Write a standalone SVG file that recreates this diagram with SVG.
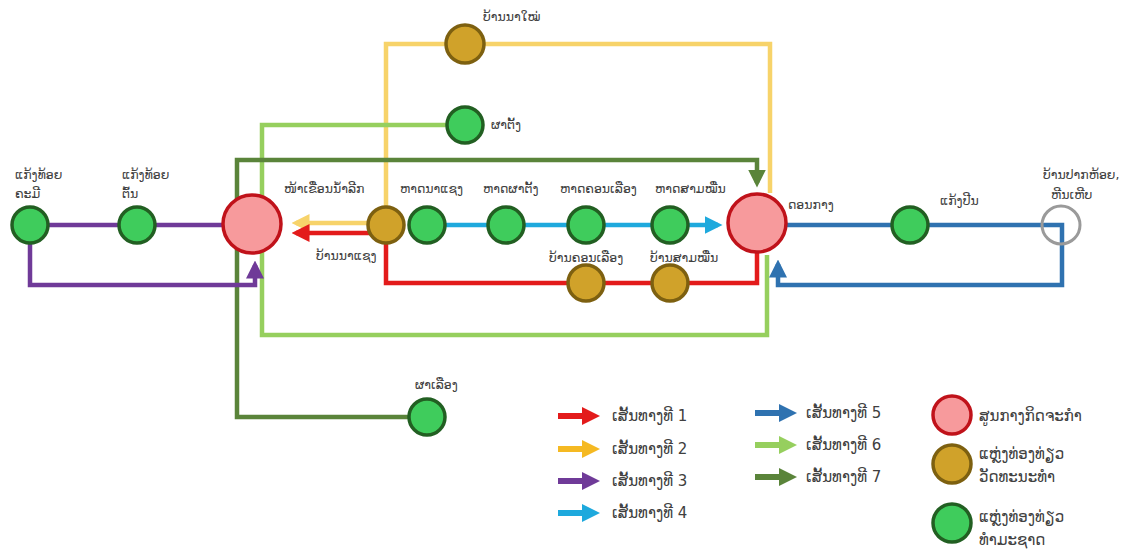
<svg xmlns="http://www.w3.org/2000/svg" width="1141" height="551" viewBox="0 0 1141 551">
<style>
text{font-family:"DejaVu Sans","Noto Sans",sans-serif;font-size:12.5px;fill:#404040}
.lg{font-size:15px}
.c{fill:none;stroke-width:4.5;stroke-linejoin:miter}
.r1{stroke:#e31b1b}.r2{stroke:#f7d36a}.r3{stroke:#6f3a98}.r4{stroke:#1ea9dd}.r5{stroke:#2f72b0}.r6{stroke:#96cf5e}.r7{stroke:#5a843a}
.hub{fill:#f79a9c;stroke:#c0121a;stroke-width:3.5}
.cul{fill:#d0a22a;stroke:#7d6010;stroke-width:3.5}
.nat{fill:#3fcc5c;stroke:#225f22;stroke-width:3.5}
.end{fill:none;stroke:#9a9a9a;stroke-width:3}
</style>
<defs>
<marker id="a1" markerWidth="4" markerHeight="4" refX="3" refY="2" orient="auto" markerUnits="strokeWidth"><path d="M0,0 L4,2 L0,4 z" fill="#e31b1b"/></marker>
<marker id="a2" markerWidth="4" markerHeight="4" refX="3" refY="2" orient="auto" markerUnits="strokeWidth"><path d="M0,0 L4,2 L0,4 z" fill="#f7d36a"/></marker>
<marker id="a3" markerWidth="4" markerHeight="4" refX="3" refY="2" orient="auto" markerUnits="strokeWidth"><path d="M0,0 L4,2 L0,4 z" fill="#6f3a98"/></marker>
<marker id="a4" markerWidth="4" markerHeight="4" refX="3" refY="2" orient="auto" markerUnits="strokeWidth"><path d="M0,0 L4,2 L0,4 z" fill="#1ea9dd"/></marker>
<marker id="a5" markerWidth="4" markerHeight="4" refX="3" refY="2" orient="auto" markerUnits="strokeWidth"><path d="M0,0 L4,2 L0,4 z" fill="#2f72b0"/></marker>
<marker id="a7" markerWidth="4" markerHeight="4" refX="3" refY="2" orient="auto" markerUnits="strokeWidth"><path d="M0,0 L4,2 L0,4 z" fill="#5a843a"/></marker>
<marker id="lr" markerWidth="3" markerHeight="3" refX="1" refY="1.5" orient="auto" markerUnits="strokeWidth"><path d="M0,0 L3,1.5 L0,3 z" fill="context-stroke"/></marker>
</defs>
<rect width="1141" height="551" fill="#ffffff"/>

<g id="connectors">
<path class="c r2" d="M386,208 V44 H770 V193"/>
<path class="c r2" d="M372,223 H296" marker-end="url(#a2)"/>
<path class="c r6" d="M447,125 H262 V335 H767 V255"/>
<path class="c r7" d="M409,417 H237 V160 H757 V183" marker-end="url(#a7)"/>
<path class="c r3" d="M224,225 H30 V285 H255 V265" marker-end="url(#a3)"/>
<path class="c r1" d="M757,252 V283 H386 V233 H296" marker-end="url(#a1)"/>
<path class="c r4" d="M445,225 H718" marker-end="url(#a4)"/>
<path class="c r5" d="M787,225 H1062 V285 H778 V264" marker-end="url(#a5)"/>
</g>

<g id="n-khami"><circle class="nat" cx="30" cy="225" r="18"/><text x="15" y="179">ແກ້ງທ້ອຍ</text><text x="15" y="198">ຄະມີ</text></g>
<g id="n-ton"><circle class="nat" cx="137" cy="225" r="18"/><text x="122" y="179">ແກ້ງທ້ອຍ</text><text x="122" y="198">ຕົ້ນ</text></g>
<g id="n-dam"><circle class="hub" cx="252" cy="224" r="29"/><text x="284" y="193">ໜ້າເຂື່ອນນ້ຳລີກ</text></g>
<g id="n-banaxaeng"><circle class="cul" cx="386" cy="225" r="18"/><text x="316" y="260">ບ້ານນາແຊງ</text></g>
<g id="n-hatnaxaeng"><circle class="nat" cx="427" cy="225" r="18"/><text x="400" y="193">ຫາດນາແຊງ</text></g>
<g id="n-hatphatang"><circle class="nat" cx="506" cy="225" r="18"/><text x="483" y="193">ຫາດຜາຕັ້ງ</text></g>
<g id="n-hatkhon"><circle class="nat" cx="586" cy="225" r="18"/><text x="560" y="193">ຫາດຄອນເລືອງ</text></g>
<g id="n-hatsam"><circle class="nat" cx="670" cy="225" r="18"/><text x="655" y="193">ຫາດສາມໝື່ນ</text></g>
<g id="n-bankhon"><circle class="cul" cx="586" cy="283" r="18"/><text x="549" y="262">ບ້ານຄອນເລືອງ</text></g>
<g id="n-bansam"><circle class="cul" cx="670" cy="283" r="18"/><text x="650" y="262">ບ້ານສາມໝື່ນ</text></g>
<g id="n-donkang"><circle class="hub" cx="757" cy="223" r="29"/><text x="788" y="209">ດອນກາງ</text></g>
<g id="n-kaengpin"><circle class="nat" cx="910" cy="225" r="18"/><text x="940" y="205">ແກ້ງປີນ</text></g>
<g id="n-pakhoy"><circle class="end" cx="1061" cy="225" r="19"/><text x="1043" y="179">ບ້ານປາກຫ້ອຍ,</text><text x="1051" y="199">ຫີນເຫີບ</text></g>
<g id="n-banamai"><circle class="cul" cx="465" cy="44" r="19"/><text x="483" y="21">ບ້ານນາໃໝ່</text></g>
<g id="n-phatang"><circle class="nat" cx="465" cy="125" r="18"/><text x="491" y="129">ຜາຕັ້ງ</text></g>
<g id="n-phaleuang"><circle class="nat" cx="427" cy="417" r="18"/><text x="415" y="389">ຜາເລືອງ</text></g>

<g id="legend">
<path class="c r1" d="M558,416 H588" marker-end="url(#lr)" style="stroke-width:6"/>
<path class="c" d="M558,449 H588" marker-end="url(#lr)" style="stroke:#f5b922;stroke-width:6"/>
<path class="c r3" d="M558,481 H588" marker-end="url(#lr)" style="stroke-width:6"/>
<path class="c r4" d="M558,513 H588" marker-end="url(#lr)" style="stroke-width:6"/>
<text class="lg" x="612" y="421">ເສັ້ນທາງທີ 1</text>
<text class="lg" x="612" y="454">ເສັ້ນທາງທີ 2</text>
<text class="lg" x="612" y="486">ເສັ້ນທາງທີ 3</text>
<text class="lg" x="612" y="518">ເສັ້ນທາງທີ 4</text>
<path class="c r5" d="M755,413 H785" marker-end="url(#lr)" style="stroke-width:6"/>
<path class="c r6" d="M755,445 H785" marker-end="url(#lr)" style="stroke-width:6"/>
<path class="c r7" d="M755,477 H785" marker-end="url(#lr)" style="stroke-width:6"/>
<text class="lg" x="806" y="418">ເສັ້ນທາງທີ 5</text>
<text class="lg" x="806" y="450">ເສັ້ນທາງທີ 6</text>
<text class="lg" x="806" y="482">ເສັ້ນທາງທີ 7</text>
<circle class="hub" cx="952" cy="415" r="19"/>
<circle class="cul" cx="952" cy="464" r="19"/>
<circle class="nat" cx="952" cy="523" r="19"/>
<text class="lg" x="979" y="421">ສູນກາງກິດຈະກຳ</text>
<text class="lg" x="979" y="459">ແຫຼ່ງທ່ອງທ່ຽວ</text>
<text class="lg" x="979" y="482">ວັດທະນະທຳ</text>
<text class="lg" x="979" y="522">ແຫຼ່ງທ່ອງທ່ຽວ</text>
<text class="lg" x="979" y="545">ທຳມະຊາດ</text>
</g>
</svg>
